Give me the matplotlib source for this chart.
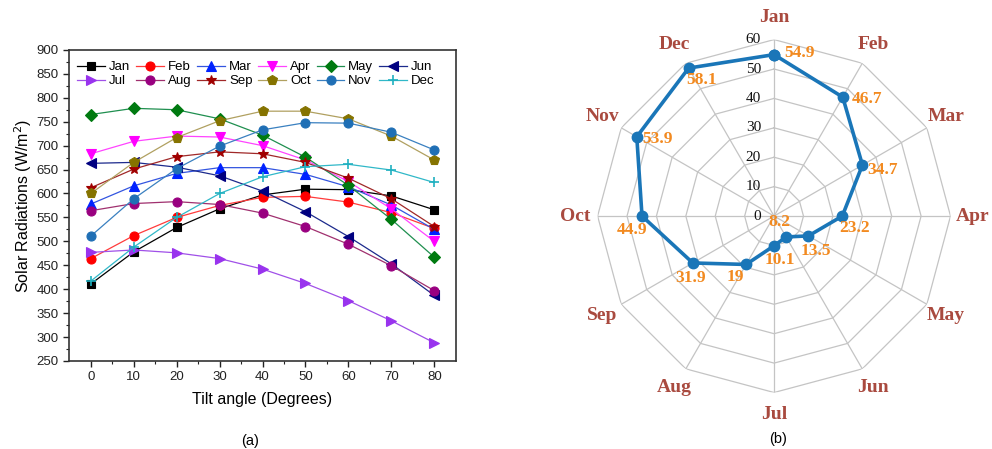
import numpy as np
import matplotlib
matplotlib.use("Agg")
import matplotlib.pyplot as plt

plt.rcParams['font.family'] = ['Liberation Sans', 'DejaVu Sans']

# ---- (a) solar radiation vs tilt angle ----
tilt = [0, 10, 20, 30, 40, 50, 60, 70, 80]
months = ["Jan", "Feb", "Mar", "Apr", "May", "Jun",
          "Jul", "Aug", "Sep", "Oct", "Nov", "Dec"]

jan = [411, 478, 529, 568, 597, 609, 608, 595, 566]
feb = [464, 512, 550, 575, 592, 594, 582, 560, 527]
mar = [578, 616, 642, 654, 654, 640, 614, 576, 525]
apr = [683, 709, 720, 718, 700, 670, 625, 568, 500]
may = [765, 778, 775, 756, 722, 676, 617, 546, 467]
jun = [663, 665, 655, 637, 605, 562, 510, 453, 387]
jul = [477, 482, 476, 464, 442, 412, 376, 334, 288]
aug = [564, 579, 583, 577, 559, 531, 494, 449, 397]
sep = [612, 651, 677, 687, 683, 665, 632, 589, 531]
oct_ = [600, 665, 717, 752, 772, 772, 756, 720, 670]
nov = [511, 589, 652, 699, 733, 748, 747, 728, 691]
dec = [417, 488, 550, 600, 635, 656, 661, 649, 623]
series = [jan, feb, mar, apr, may, jun, jul, aug, sep, oct_, nov, dec]

# ---- (b) radar values ----
radar_vals = [54.9, 46.7, 34.7, 23.2, 13.5, 8.2, 10.1, 19, 31.9, 44.9, 53.9, 58.1]
radar_ticks = [0, 10, 20, 30, 40, 50, 60]

# styles
line_cols = ["#000000", "#ff3b3b", "#3355e0", "#ff44ff", "#1f8f4f", "#1c2a8c",
             "#a050e8", "#a0306f", "#a02828", "#b0a060", "#3a80c0", "#30b8c8"]
mark_cols = ["#000000", "#ff0000", "#0022ff", "#ff00ff", "#007a10", "#000080",
             "#9933ee", "#990080", "#a00000", "#857300", "#1f6fb5", "#20b0c0"]
markers = ["s", "o", "^", "v", "D", "<", ">", "o", "*", "p", "o", "+"]
msizes = [6, 6.5, 7, 7, 6.5, 7, 7, 6.5, 7.5, 7.5, 6.5, 7.5]

fig = plt.figure(figsize=(9.92, 4.49), dpi=100)

ax = fig.add_axes([0.0699, 0.196, 0.3895, 0.6928])
handles = []
for m, ys, lc, mc, mk, ms in zip(months, series, line_cols, mark_cols, markers, msizes):
    h, = ax.plot(tilt, ys, color=lc, lw=0.9, marker=mk, ms=ms, mfc=mc, mec=mc,
                 mew=1.2 if mk == "+" else 0.8, label=m)
    handles.append(h)

ax.set_xlim(-5, 85)
ax.set_ylim(250, 900)
ax.set_xticks(tilt)
ax.set_xticks(np.arange(5, 85, 10), minor=True)
ax.set_yticks(np.arange(250, 901, 50))
ax.set_yticks(np.arange(275, 900, 50), minor=True)
ax.tick_params(which="both", direction="out", top=False, right=False,
               labelsize=9.5, colors="#222222")
ax.tick_params(which="major", length=4, width=1)
ax.tick_params(which="minor", length=2.5, width=0.8)
for s in ax.spines.values():
    s.set_linewidth(1.2)
    s.set_color("#333333")
ax.set_xlabel("Tilt angle (Degrees)", fontsize=11.5, labelpad=6)
ax.set_ylabel("Solar Radiations (W/m$^2$)", fontsize=11.5, labelpad=2)

# legend fills column by column, so interleave the two rows
order = [i + 6 * r for i in range(6) for r in range(2)]
ax.legend([handles[i] for i in order], [months[i] for i in order],
          ncol=6, loc="upper left", bbox_to_anchor=(0.0, 0.99), frameon=False,
          fontsize=9.5, handlelength=2.1, handletextpad=0.3, columnspacing=0.45,
          labelspacing=0.15, borderaxespad=0.2)
fig.text(250 / 992, 1 - 441 / 449, "(a)", ha="center", va="center", fontsize=10.5)

# ---- radar chart ----
rax = fig.add_axes([0.6024, 0.1258, 0.3558, 0.786], projection="polar")
rax.set_theta_zero_location("N")
rax.set_theta_direction(-1)
theta = np.arange(12) * 2 * np.pi / 12
closed = np.append(theta, theta[0])
rax.set_ylim(0, 60)
rax.grid(False)
rax.spines["polar"].set_visible(False)
rax.set_xticks([])
rax.set_yticks([])

grid_c = "#c4c4c4"
for r in radar_ticks[1:]:
    rax.plot(closed, [r] * 13, color=grid_c, lw=0.9, zorder=1)
for t in theta:
    rax.plot([t, t], [0, 60], color=grid_c, lw=0.9, zorder=1)

for r in radar_ticks:
    rax.annotate(str(r), xy=(0, r), xytext=(-13, 0), textcoords="offset pixels",
                 ha="right", va="center", fontsize=11,
                 family=["Liberation Serif", "DejaVu Serif"], color="#111111")

vals_closed = radar_vals + radar_vals[:1]
rax.plot(closed, vals_closed, color="#1a76b8", lw=2.6, marker="o", ms=7.5,
         mfc="#1a76b8", mec="#1a76b8", zorder=3)

for t, m in zip(theta, months):
    rax.text(t, 67.5, m, ha="center", va="center", fontsize=14, fontweight="bold",
             family=["Liberation Serif", "DejaVu Serif"], color="#a94a3f")

label_offsets = [(25, 2), (24, -2), (20, -5), (12, -12), (7, -15), (-7, 15),
                 (6, -14), (-11, -13), (-2, -15), (-10, -14), (21, -2), (13, -12)]
for t, v, off in zip(theta, radar_vals, label_offsets):
    rax.annotate("%g" % v, xy=(t, v), xytext=off, textcoords="offset pixels",
                 ha="center", va="center", fontsize=12.5, fontweight="bold",
                 family=["Liberation Serif", "DejaVu Serif"], color="#f28a20",
                 zorder=4)

fig.text(778 / 992, 1 - 439 / 449, "(b)", ha="center", va="center", fontsize=10.5)

fig.savefig("out.png", dpi=100)
